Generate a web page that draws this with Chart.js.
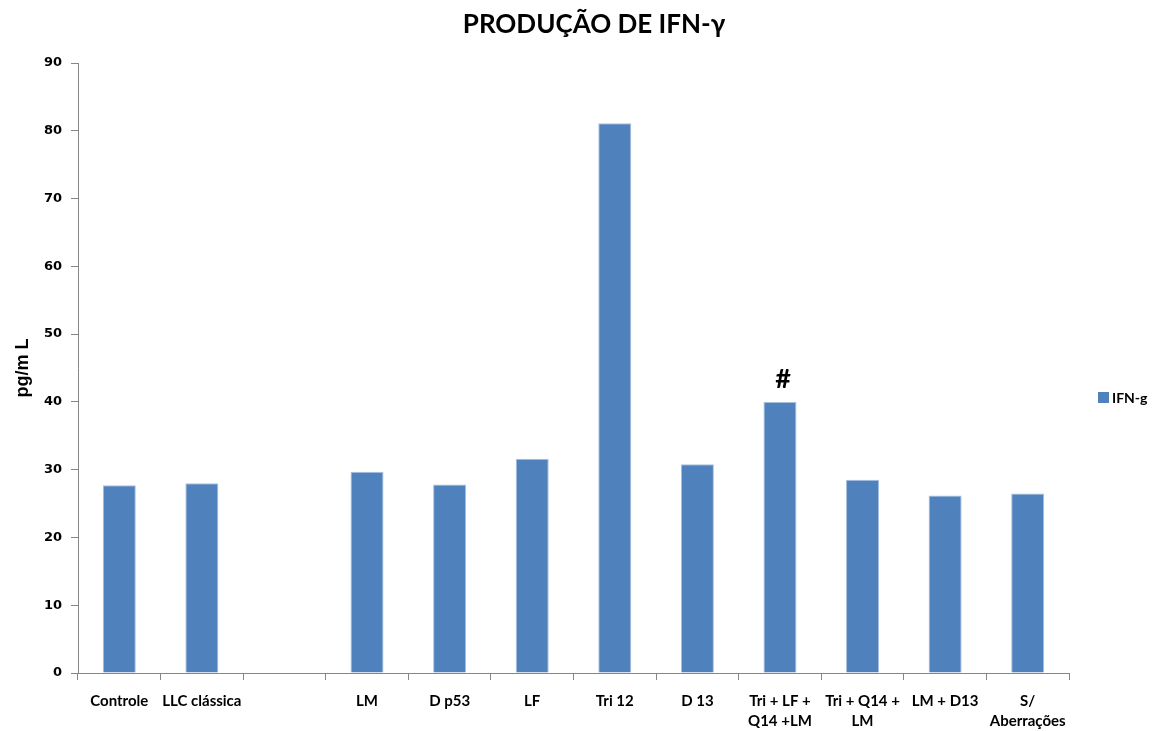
<!DOCTYPE html>
<html>
<head>
<meta charset="utf-8">
<script src="https://cdn.jsdelivr.net/npm/chart.js@4"></script>
<style>
  html, body { margin: 0; padding: 0; background: #fff; }
  canvas { display: block; }
</style>
</head>
<body>
<canvas id="ifnChart" width="1153" height="731"></canvas>
<script>
// IFN-gamma production per group (pg/mL)
const categories = [
  "Controle", "LLC clássica", "", "LM", "D p53", "LF", "Tri 12", "D 13",
  ["Tri + LF +", "Q14 +LM"], ["Tri + Q14 +", "LM"], "LM + D13", ["S/", "Aberrações"]
];
const ifnValues = [27.7, 28.0, null, 29.7, 27.8, 31.6, 81.1, 30.8, 40.0, 28.5, 26.2, 26.5];
const markers = ["", "", "", "", "", "", "", "", "#", "", "", ""];
const seriesLabel = "IFN-g";
const chartTitle = "PRODUÇÃO DE IFN-γ";
const yAxisTitle = "pg/m L";
const yMin = 0, yMax = 90, yStep = 10;

const barColor = "#4F81BD";
const axisColor = "#868686";

const ctx = document.getElementById("ifnChart").getContext("2d");

// title, side legend and the "#" marks are drawn by hand
const decorations = {
  id: "decorations",
  afterDatasetsDraw(chart) {
    const { ctx, chartArea } = chart;
    const meta = chart.getDatasetMeta(0);

    ctx.save();
    ctx.fillStyle = "#000";
    ctx.textAlign = "center";
    ctx.textBaseline = "alphabetic";
    ctx.font = "bold 27px Lato";
    markers.forEach((m, i) => {
      const bar = meta.data[i];
      if (!m || !bar) return;
      ctx.fillText(m, bar.x + 3, bar.y - 14);
    });

    ctx.font = "bold 26px Lato";
    ctx.textBaseline = "middle";
    ctx.fillText(chartTitle, 594, 25);

    const lx = chartArea.right + 29;
    const ly = (chartArea.top + chartArea.bottom) / 2 + 29;
    ctx.fillStyle = barColor;
    ctx.fillRect(lx, ly - 5, 11, 11);
    ctx.fillStyle = "#000";
    ctx.textAlign = "left";
    ctx.font = "bold 14px Lato";
    ctx.fillText(seriesLabel, lx + 14, ly + 1);
    ctx.restore();
  }
};

new Chart(ctx, {
  type: "bar",
  data: {
    labels: categories,
    datasets: [{
      label: seriesLabel,
      data: ifnValues,
      backgroundColor: barColor,
      borderColor: "#A7C0E0",
      borderWidth: 1,
      borderSkipped: "bottom",
      categoryPercentage: 1,
      barPercentage: 0.4
    }]
  },
  options: {
    responsive: false,
    animation: false,
    devicePixelRatio: 1,
    layout: { padding: { top: 63, right: 84, bottom: 0, left: 0 } },
    plugins: {
      legend: { display: false },
      title: { display: false },
      tooltip: { enabled: false }
    },
    scales: {
      x: {
        offset: true,
        grid: { offset: true, drawOnChartArea: false, tickLength: 7, color: axisColor },
        border: { color: axisColor },
        ticks: {
          autoSkip: false,
          maxRotation: 0,
          minRotation: 0,
          padding: 11,
          color: "#000",
          font: { family: "Lato", weight: "bold", size: 15, lineHeight: 1.33 }
        },
        afterFit: s => { s.height = 58; }
      },
      y: {
        min: yMin,
        max: yMax,
        grid: { drawOnChartArea: false, tickLength: 7, color: axisColor },
        border: { color: axisColor },
        ticks: {
          stepSize: yStep,
          padding: 9,
          color: "#000",
          font: { family: "DejaVu Sans", weight: "bold", size: 13 }
        },
        title: {
          display: true,
          text: yAxisTitle,
          color: "#000",
          padding: { top: 12, bottom: 0 },
          font: { family: "Liberation Sans", weight: "bold", size: 18 }
        },
        afterFit: s => { s.width = 78; }
      }
    }
  },
  plugins: [decorations]
});
</script>
</body>
</html>
